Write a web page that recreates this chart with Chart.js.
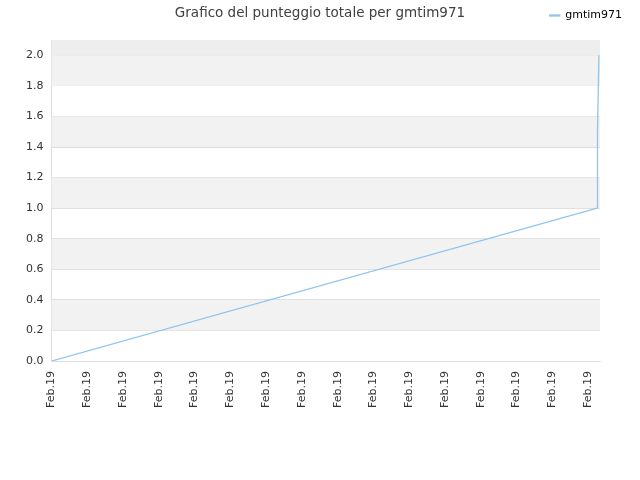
<!DOCTYPE html>
<html>
<head>
<meta charset="utf-8">
<script src="https://cdn.jsdelivr.net/npm/chart.js@4"></script>
<style>
html,body{margin:0;padding:0;background:#fff;}
#wrap{position:relative;width:640px;height:480px;}
#title{position:absolute;top:4px;left:0;width:640px;text-align:center;font-family:"DejaVu Sans",sans-serif;font-size:13.5px;color:#404040;}
</style>
</head>
<body>
<div id="wrap">
<div id="title">Grafico del punteggio totale per gmtim971</div>
<canvas id="c" width="640" height="480"></canvas>
</div>
<script>
const seriesName = "gmtim971";
const xValues = [0, 15.25, 15.26, 15.30];
const scores = [0, 1.0, 1.5, 2.0];
const tickLabel = "Feb.19";
const xMax = 15.33;
const yMax = 2.1;

const bands = {
  id: 'bands',
  beforeDatasetsDraw(chart) {
    const {ctx, chartArea, scales} = chart;
    const y = scales.y;
    ctx.save();
    const ticks = y.ticks.map(t => t.value);
    for (let i = 0; i < ticks.length; i++) {
      const lo = ticks[i];
      const hi = i + 1 < ticks.length ? ticks[i + 1] : y.max;
      if (i % 2 === 1 || i === ticks.length - 1) {
        ctx.fillStyle = (i === ticks.length - 1) ? '#eeeeee' : '#f2f2f2';
        const top = y.getPixelForValue(hi);
        const bot = y.getPixelForValue(lo);
        ctx.fillRect(chartArea.left, top, chartArea.right - chartArea.left, bot - top);
      }
    }
    ctx.restore();
  }
};

const spacer = (pos, size) => ({
  type: 'linear',
  position: pos,
  display: true,
  ticks: {display: false},
  grid: {display: false, drawTicks: false},
  border: {display: false},
  afterFit(scale) {
    if (pos === 'top') scale.height = size; else scale.width = size;
  }
});

new Chart(document.getElementById('c'), {
  type: 'line',
  data: {
    datasets: [{
      label: seriesName,
      xAxisID: 'x',
      yAxisID: 'y',
      data: xValues.map((x, i) => ({x: x, y: scores[i]})),
      borderColor: '#90c4f0',
      backgroundColor: '#90c4f0',
      borderWidth: 1.3,
      pointRadius: 0,
      tension: 0,
      fill: false
    }]
  },
  options: {
    responsive: false,
    animation: false,
    layout: {padding: {left: 18, right: 10, top: 2, bottom: 62}},
    plugins: {
      title: {display: false},
      tooltip: {enabled: false},
      legend: {
        position: 'top',
        align: 'end',
        labels: {
          boxWidth: 10,
          boxHeight: 1,
          font: {family: 'DejaVu Sans', size: 11},
          color: '#000',
          padding: 8
        }
      }
    },
    scales: {
      x: {
        type: 'linear',
        position: 'bottom',
        min: 0,
        max: xMax,
        ticks: {
          stepSize: 1,
          includeBounds: false,
          autoSkip: false,
          maxRotation: 90,
          minRotation: 90,
          padding: 10,
          color: '#333',
          font: {family: 'DejaVu Sans', size: 11},
          callback: () => tickLabel
        },
        grid: {display: false, drawTicks: false},
        border: {color: '#dddddd'}
      },
      y: {
        position: 'left',
        min: 0,
        max: yMax,
        ticks: {
          stepSize: 0.2,
          includeBounds: false,
          color: '#333',
          font: {family: 'DejaVu Sans', size: 11},
          padding: 8,
          callback: v => v.toFixed(1)
        },
        grid: {color: '#dddddd', drawTicks: false},
        border: {color: '#dddddd'}
      },
      xTop: spacer('top', 9),
      yRight: spacer('right', 30)
    }
  },
  plugins: [bands]
});
</script>
</body>
</html>
